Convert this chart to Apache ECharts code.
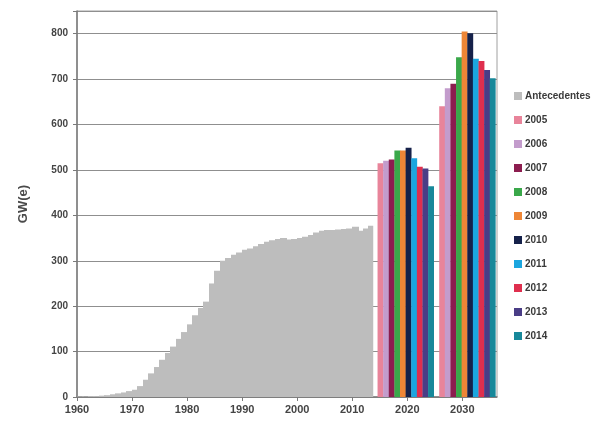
<!DOCTYPE html>
<html>
<head>
<meta charset="utf-8">
<script src="https://cdn.jsdelivr.net/npm/echarts@6/dist/echarts.min.js"></script>
<style>html,body{margin:0;padding:0;background:#fff}#c{width:606px;height:426px}</style>
</head>
<body>
<div id="c"></div>
<script>
// ---- DATA ----
const histStartYear = 1960;
const histValues = [1,1,2,2,3,4,6,8,10,13,16,24,38,52,66,82,97,111,128,143,160,180,196,210,250,278,300,306,313,318,324,327,332,337,342,345,348,350,347,348,350,353,357,362,366,368,368,369,370,371,375,366,371,377];
const projTargets = ['2020', '2030'];
const scenarioNames = ['2005','2006','2007','2008','2009','2010','2011','2012','2013','2014'];
const proj2005 = [515, 640];
const proj2006 = [520, 680];
const proj2007 = [523, 690];
const proj2008 = [543, 748];
const proj2009 = [543, 805];
const proj2010 = [549, 801];
const proj2011 = [526, 745];
const proj2012 = [507, 740];
const proj2013 = [503, 720];
const proj2014 = [464, 702];
const yTicks = [0,100,200,300,400,500,600,700,800];
const xTicks = [1960,1970,1980,1990,2000,2010,2020,2030];

// ---- STYLE / LAYOUT ----
const projSeries = [proj2005,proj2006,proj2007,proj2008,proj2009,proj2010,proj2011,proj2012,proj2013,proj2014];
const colors = ['#e8849a','#c39ccc','#8c1d4f','#3aa84a','#ee8636','#15214a','#1ba6df','#df2f4e','#4a3d86','#17889a'];
const histColor = '#bdbdbd';
const groupCenters = [2019.7, 2030.9];
const barYears = 1.02;
const histBarYears = 0.95;

const chart = echarts.init(document.getElementById('c'), null, {renderer:'canvas'});

const histData = histValues.map((v, i) => [histStartYear + i, v]);

function histRender(params, api) {
  const y = api.value(0);
  const p0 = api.coord([y, api.value(1)]);
  const p1 = api.coord([y + histBarYears, 0]);
  const pn = api.coord([y + 1, 0]);
  // extend to the next bar so no seams show between adjacent years
  const last = params.dataIndex === histValues.length - 1;
  const w = last ? (p1[0] - p0[0]) : (pn[0] - p0[0] + 1.5);
  return {type:'rect', shape:{x:Math.floor(p0[0]), y:p0[1], width:w, height:p1[1]-p0[1]},
          style:{fill:histColor, lineWidth:0}};
}

function makeProjRender(si) {
  return function(params, api) {
    const g = api.value(0);
    const left = groupCenters[g] + (si - 5) * barYears;
    const p0 = api.coord([left, api.value(1)]);
    const p1 = api.coord([left + barYears, 0]);
    return {type:'rect', shape:{x:p0[0], y:p0[1], width:p1[0]-p0[0]+0.3, height:p1[1]-p0[1]},
            style:{fill:colors[si], lineWidth:0}};
  };
}

const series = [{
  name:'Antecedentes', type:'custom', renderItem: histRender, data: histData,
  itemStyle:{color:histColor, borderWidth:0}, encode:{x:0, y:1}, clip:true
}];
projSeries.forEach((arr, si) => {
  series.push({
    name: scenarioNames[si], type:'custom', renderItem: makeProjRender(si),
    data: arr.map((v, g) => [g, v]), itemStyle:{color:colors[si], borderWidth:0},
    encode:{x:0, y:1}, clip:true
  });
});

const option = {
  backgroundColor:'#fff',
  animation:false,
  textStyle:{fontFamily:'Liberation Sans'},
  grid:{left:77, right:109, top:11, bottom:29, show:true, borderColor:'#a0a0a0', borderWidth:1},
  legend:{
    orient:'vertical', left:509, top:86, icon:'rect', itemWidth:8, itemHeight:8, itemGap:14,
    textStyle:{fontSize:10, fontWeight:'bold', color:'#3a3a3a', fontFamily:'Liberation Sans', padding:[0,0,0,-2]},
    data:['Antecedentes'].concat(scenarioNames)
  },
  xAxis:{
    type:'value', min:1960, max:2036.3, interval:10,
    axisLine:{show:true, lineStyle:{color:'#7a7a7a', width:1.5}},
    axisTick:{show:true, length:4, lineStyle:{color:'#7a7a7a'}},
    splitLine:{show:false},
    axisLabel:{fontSize:11, fontWeight:'bold', color:'#444', margin:7,
      showMaxLabel:false,
      formatter: v => xTicks.indexOf(v) >= 0 ? String(v) : ''}
  },
  yAxis:{
    type:'value', min:0, max:850, interval:100,
    name:'GW(e)', nameLocation:'middle', nameGap:47,
    nameTextStyle:{fontSize:13, fontWeight:'bold', color:'#4a4a4a'},
    axisLine:{show:true, lineStyle:{color:'#7a7a7a', width:1.5}},
    axisTick:{show:true, length:4, lineStyle:{color:'#7a7a7a'}},
    splitLine:{show:true, lineStyle:{color:'#8f8f8f', width:1}},
    axisLabel:{fontSize:10, fontWeight:'bold', color:'#444', margin:9,
      formatter: v => yTicks.indexOf(v) >= 0 ? String(v) : ''}
  },
  series: series
};
chart.setOption(option);
</script>
</body>
</html>
